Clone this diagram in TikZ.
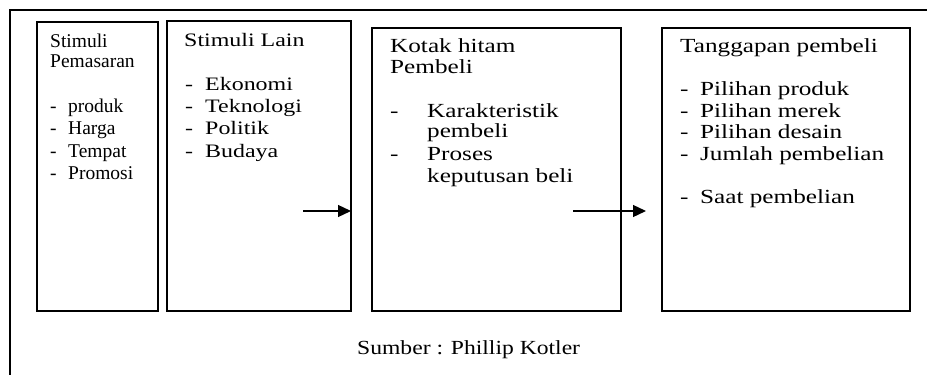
\documentclass[tikz,border=0pt]{standalone}
\usepackage{fontspec}
\setmainfont{Liberation Serif}
\newfontfamily\wideA{Liberation Serif}[FakeStretch=1.26]
\newfontfamily\wideB{Liberation Serif}[FakeStretch=1.18]
\usetikzlibrary{arrows.meta}
\newcommand\itm[2]{\makebox[#1][l]{-}#2}
\begin{document}
\begin{tikzpicture}[x=1pt,y=-1pt,
  box/.style={draw, rectangle, anchor=north west, inner sep=0pt, outer sep=0pt},
  txtA/.style={anchor=base west, inner sep=0pt, font=\fontsize{19.5}{22}\selectfont},
  txtB/.style={anchor=base west, inner sep=0pt, font=\wideA\fontsize{19}{22}\selectfont},
  txtC/.style={anchor=base west, inner sep=0pt, font=\wideA\fontsize{20}{22}\selectfont},
  txtD/.style={anchor=base west, inner sep=0pt, font=\wideB\fontsize{20}{22}\selectfont},
  arr/.style={line width=1.3pt, -{Triangle[length=13pt,width=12pt]}}]
\useasboundingbox (0,0) rectangle (927,375);
% outer frame
\coordinate (o1) at (10,375);
\coordinate (o2) at (10,10);
\coordinate (o3) at (927,10);
\draw[line width=1.3pt] (o1) -- (o2) -- (o3);
% boxes
\node[box, line width=2pt, minimum width=121pt, minimum height=289pt] (b1) at (37,22) {};
\node[box, line width=2.5pt, minimum width=184pt, minimum height=290pt] (b2) at (167,21) {};
\node[box, line width=2.5pt, minimum width=249pt, minimum height=283pt] (b3) at (372,28) {};
\node[box, line width=2.5pt, minimum width=248pt, minimum height=283pt] (b4) at (662,28) {};
% box 1 text
\foreach \xx/\yy/\s [count=\i] in {50/47/Stimuli, 50/67/Pemasaran,
  50/112/{\itm{18pt}{produk}}, 50/134/{\itm{18pt}{Harga}},
  50/157/{\itm{18pt}{Tempat}}, 50/179/{\itm{18pt}{Promosi}}}
  \node[txtA, name=p\i] at (\xx,\yy) {\s};
% box 2 text
\foreach \xx/\yy/\s [count=\i] in {184/46/{Stimuli Lain},
  185/90/{\itm{20pt}{Ekonomi}}, 185/112/{\itm{20pt}{Teknologi}},
  185/134/{\itm{20pt}{Politik}}, 185/157/{\itm{20pt}{Budaya}}}
  \node[txtB, name=q\i] at (\xx,\yy) {\s};
% box 3 text
\foreach \xx/\yy/\s [count=\i] in {390/52/{Kotak hitam}, 390/73/Pembeli,
  390/117/{\itm{37pt}{Karakteristik}}, 427/137/pembeli,
  390/160/{\itm{37pt}{Proses}}, 427/182/{keputusan beli}}
  \node[txtC, name=r\i] at (\xx,\yy) {\s};
% box 4 text
\foreach \xx/\yy/\s [count=\i] in {680/52/{Tanggapan pembeli},
  680/95/{\itm{20pt}{Pilihan produk}}, 680/117/{\itm{20pt}{Pilihan merek}},
  680/138/{\itm{20pt}{Pilihan desain}}, 680/160/{\itm{20pt}{Jumlah pembelian}},
  680/203/{\itm{20pt}{Saat pembelian}}}
  \node[txtC, name=s\i] at (\xx,\yy) {\s};
% source
\node[txtD] (src) at (357,354) {Sumber : Phillip Kotler};
% arrows
\coordinate (a1s) at (303,211);
\draw[arr] (a1s) -- (a1s -| b2.east);
\coordinate (a2s) at (573,211);
\coordinate (a2e) at (646,211);
\draw[arr] (a2s) -- (a2e);
\end{tikzpicture}
\end{document}
